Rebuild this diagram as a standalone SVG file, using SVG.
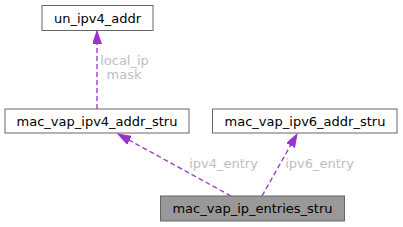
<svg xmlns="http://www.w3.org/2000/svg" width="403" height="227" viewBox="0 0 403 227">
<style>
.box{fill:#ffffff;stroke:#666666;stroke-width:1}
.cur{fill:#999999;stroke:#666666;stroke-width:1}
.t{font-family:"DejaVu Sans",sans-serif;font-size:13px;fill:#000000;text-anchor:middle}
.lbl{font-family:"DejaVu Sans",sans-serif;font-size:13px;fill:#c0c0c0;text-anchor:middle}
.e{fill:none;stroke:#9a32cd;stroke-width:1.3;stroke-dasharray:5,3}
</style>
<defs>
<marker id="ah" markerUnits="userSpaceOnUse" markerWidth="14" markerHeight="10" refX="13" refY="4.5" orient="auto">
<path d="M0,0 L13,4.5 L0,9 z" fill="#9a32cd" stroke="#9a32cd" stroke-width="1"/>
</marker>
</defs>
<g id="edges">
<line class="e" x1="97" y1="109" x2="97" y2="31" marker-end="url(#ah)"/>
<line class="e" x1="231" y1="196" x2="118" y2="134" marker-end="url(#ah)"/>
<line class="e" x1="262" y1="196" x2="297" y2="134" marker-end="url(#ah)"/>
<text class="lbl" x="124.5" y="65">local_ip</text>
<text class="lbl" x="124" y="79">mask</text>
<text class="lbl" x="223.5" y="167.5">ipv4_entry</text>
<text class="lbl" x="319.5" y="167.5">ipv6_entry</text>
</g>
<g id="un_ipv4_addr">
<rect class="box" x="42" y="5.5" width="111" height="25"/>
<text class="t" x="97.5" y="22.5">un_ipv4_addr</text>
</g>
<g id="mac_vap_ipv4_addr_stru">
<rect class="box" x="5" y="109" width="184" height="24"/>
<text class="t" x="97" y="125.5">mac_vap_ipv4_addr_stru</text>
</g>
<g id="mac_vap_ipv6_addr_stru">
<rect class="box" x="212.5" y="109" width="184.5" height="24"/>
<text class="t" x="305" y="125.5">mac_vap_ipv6_addr_stru</text>
</g>
<g id="mac_vap_ip_entries_stru">
<rect class="cur" x="160.5" y="196" width="184" height="25"/>
<text class="t" x="252.5" y="213">mac_vap_ip_entries_stru</text>
</g>
</svg>
